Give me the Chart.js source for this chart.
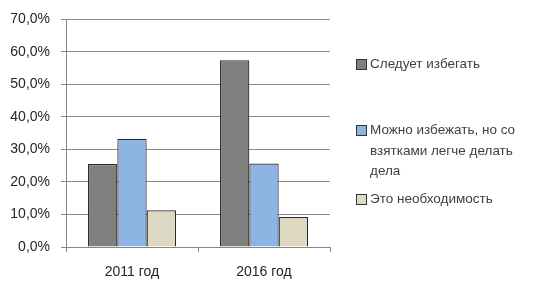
<!DOCTYPE html>
<html><head><meta charset="utf-8">
<script src="https://cdn.jsdelivr.net/npm/chart.js@4"></script>
<style>
html,body{margin:0;padding:0;background:#fff;}
#wrap{position:relative;width:535px;height:282px;}
#legend{position:absolute;left:356px;top:0;font-family:"Liberation Sans",Arial,sans-serif;font-size:13.5px;color:#404040;}
.item{position:absolute;left:0;width:155px;line-height:20.5px;padding-left:14px;}
.box{position:absolute;left:0;top:5px;width:9px;height:9px;border:1px solid #333;}
</style></head>
<body>
<div id="wrap"><canvas id="c" width="535" height="282"></canvas><div id="legend"></div></div>
<script>
const categories = ["2011 год", "2016 год"];
const seriesNames = ["Следует избегать", "Можно избежать, но со взятками легче делать дела", "Это необходимость"];
const avoid = [25.5, 57.4];
const possible = [33.3, 25.7];
const necessary = [11.3, 9.2];
const colors = ["#7f7f7f", "#8eb4e3", "#ddd9c3"];
const legendTops = [54, 120, 189];

const fmt = v => v.toFixed(1).replace('.', ',') + '%';

new Chart(document.getElementById('c'), {
  type: 'bar',
  data: {
    labels: categories,
    datasets: [avoid, possible, necessary].map((d, i) => ({
      label: seriesNames[i], data: d, backgroundColor: colors[i],
      borderColor: '#2b2b2b', borderWidth: 1.2,
      categoryPercentage: 0.667, barPercentage: 1
    }))
  },
  options: {
    responsive: false, animation: false,
    layout: {padding: {top: 19, right: 205, left: 0, bottom: 0}},
    plugins: {legend: {display: false}, tooltip: {enabled: false}},
    scales: {
      x: {
        grid: {offset: true, drawOnChartArea: false, color: '#868686', tickLength: 5},
        border: {color: '#868686'},
        ticks: {font: {family: 'Liberation Sans', size: 14}, color: '#262626', padding: 12},
        afterFit: s => { s.height = 35; }
      },
      y: {
        min: 0, max: 70,
        grid: {color: '#8a8a8a', tickLength: 5},
        border: {color: '#868686'},
        ticks: {stepSize: 10, callback: v => fmt(v), font: {family: 'Liberation Sans', size: 14}, color: '#262626', padding: 11},
        afterFit: s => { s.width = 66; }
      }
    }
  }
});

const lg = document.getElementById('legend');
seriesNames.forEach((n, i) => {
  const it = document.createElement('div');
  it.className = 'item';
  it.style.top = legendTops[i] + 'px';
  it.innerHTML = '<span class="box" style="background:' + colors[i] + '"></span>' + n;
  lg.appendChild(it);
});
</script>
</body></html>
